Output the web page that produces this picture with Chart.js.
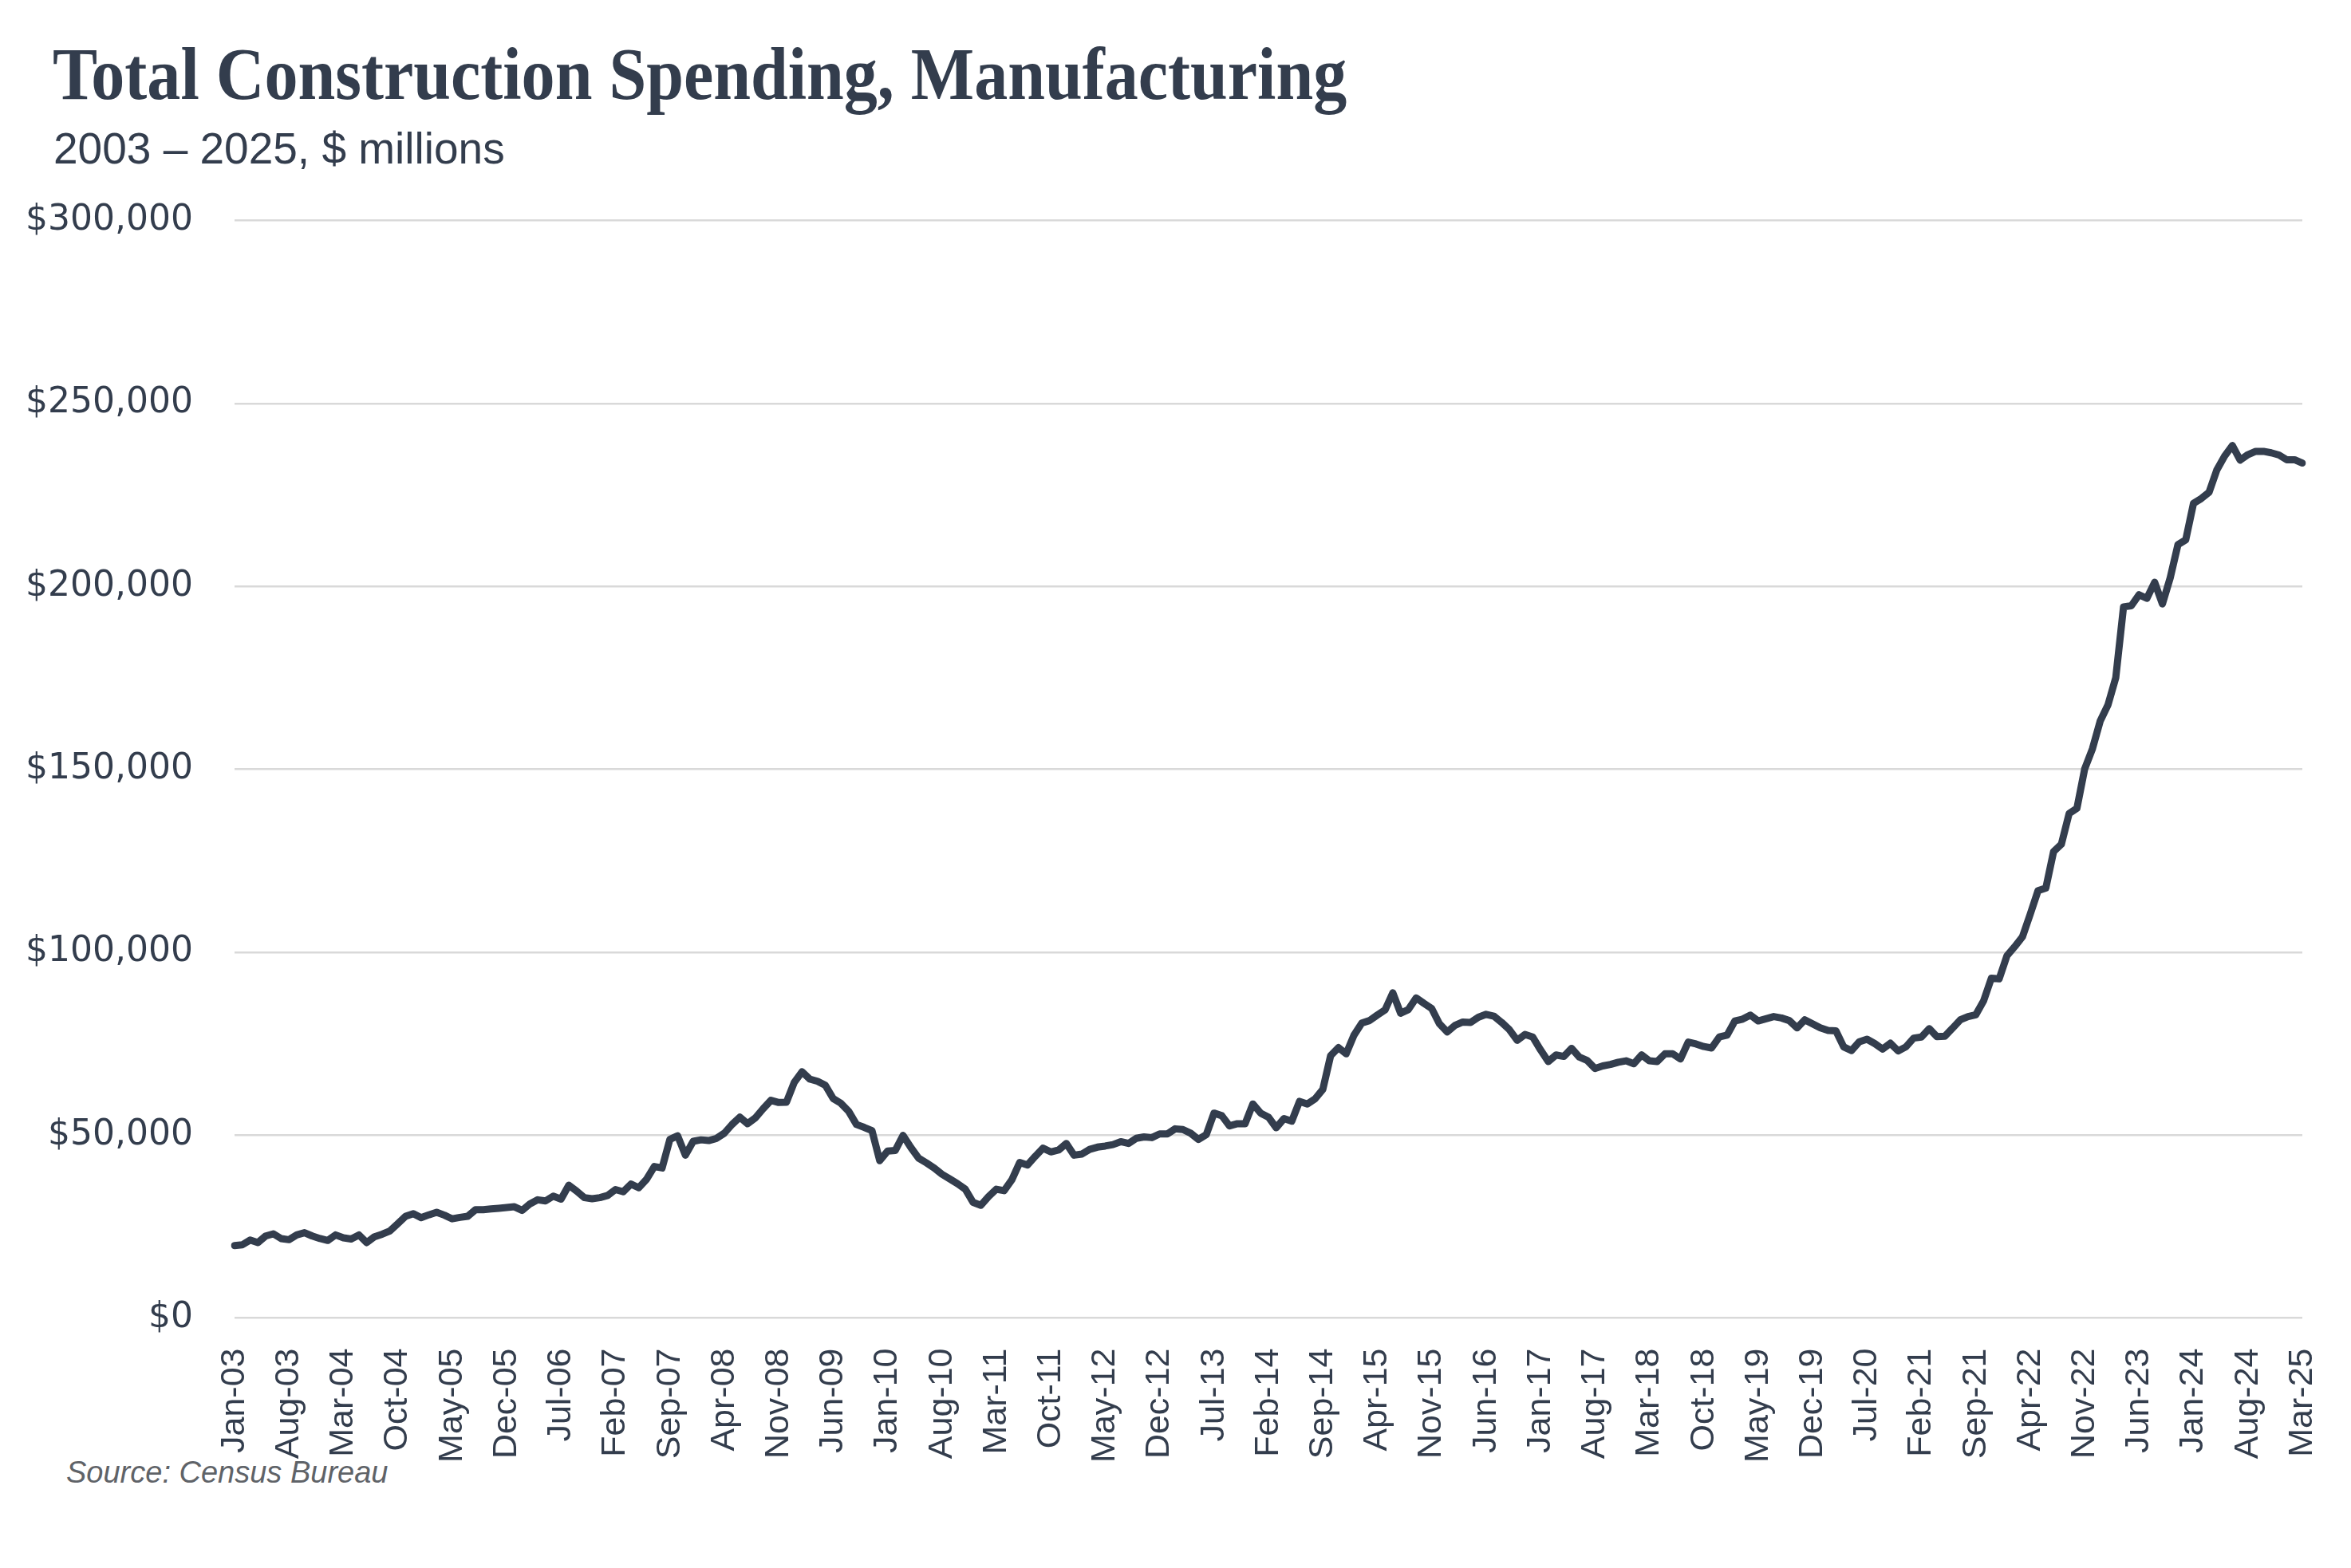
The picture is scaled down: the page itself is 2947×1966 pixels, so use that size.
<!DOCTYPE html>
<html>
<head>
<meta charset="utf-8">
<script src="https://cdn.jsdelivr.net/npm/chart.js@4.4.1/dist/chart.umd.min.js"></script>
<style>
  html, body { margin: 0; padding: 0; background: #fff; }
  body { width: 2947px; height: 1966px; position: relative; overflow: hidden; }
  .txt { position: absolute; white-space: nowrap; line-height: 1; color: #333d4d; transform-origin: 0 0; }
  #title { left: 66px; top: 45px; font-family: "Liberation Serif", serif; font-weight: bold; font-size: 94px; }
  #subtitle { left: 67px; top: 159px; font-family: "Liberation Sans", sans-serif; font-size: 55px; }
  #source { left: 83px; top: 1827px; font-family: "Liberation Sans", sans-serif; font-style: italic; font-size: 38px; color: #5f6368; }
  #chart { position: absolute; left: 0; top: 0; }
</style>
</head>
<body>
<div id="title" class="txt">Total Construction Spending, Manufacturing</div>
<div id="subtitle" class="txt">2003 – 2025, $ millions</div>
<div id="source" class="txt">Source: Census Bureau</div>
<canvas id="chart" width="2947" height="1966"></canvas>
<script>
// monthly spending, $ millions, Jan-03 .. Mar-25
const spending = [
  19800, 20000, 21300, 20600, 22400, 23000, 21700, 21400, 22700, 23300, 22400, 21700,
  21200, 22700, 21900, 21600, 22700, 20600, 22200, 22900, 23800, 25800, 27800, 28500,
  27400, 28200, 28900, 28100, 27100, 27500, 27800, 29600, 29600, 29800, 30000, 30200,
  30400, 29400, 31200, 32300, 32000, 33300, 32500, 36300, 34700, 32900, 32600, 32900,
  33500, 35100, 34500, 36600, 35600, 37900, 41400, 41000, 48800, 49800, 44500, 48300,
  48700, 48500, 49100, 50500, 52900, 54900, 53100, 54700, 57200, 59500, 58900, 59000,
  64400, 67300, 65300, 64700, 63600, 60000, 58700, 56500, 52900, 52100, 51200, 43000,
  45600, 45800, 49900, 46600, 43700, 42400, 41000, 39300, 38000, 36700, 35200, 31600,
  30800, 33200, 35200, 34800, 37800, 42500, 41800, 44200, 46400, 45400, 45900, 47700,
  44500, 44800, 46100, 46700, 47000, 47400, 48200, 47700, 49100, 49500, 49300, 50300,
  50300, 51700, 51500, 50500, 48800, 50100, 56000, 55300, 52500, 53100, 53100, 58500,
  56000, 54900, 52000, 54500, 53800, 59200, 58500, 59900, 62500, 71700, 73900, 72200,
  77300, 80600, 81300, 82800, 84200, 88900, 83300, 84300, 87500, 86000, 84600, 80400,
  78200, 80000, 80900, 80800, 82200, 83000, 82500, 80800, 78800, 75900, 77500, 76800,
  73300, 70100, 71900, 71500, 73700, 71300, 70400, 68200, 68900, 69300, 69900, 70300,
  69500, 71900, 70300, 70100, 72200, 72200, 70800, 75400, 74900, 74200, 73800, 76800,
  77300, 81200, 81700, 82800, 81200, 81800, 82400, 82000, 81300, 79300, 81500, 80400,
  79300, 78600, 78500, 74100, 73100, 75500, 76200, 75000, 73500, 75100, 73000, 74100,
  76500, 76800, 79100, 76900, 77000, 79200, 81500, 82400, 82900, 86700, 92900, 92700,
  99000, 101500, 104200, 110400, 116800, 117500, 127500, 129500, 137900, 139300, 150100, 155600,
  163200, 167600, 175000, 194400, 194700, 197700, 196700, 201100, 195200, 202300, 211400, 212700,
  222700, 224000, 225700, 231800, 235600, 238500, 234500, 236000, 236900, 236900, 236500, 235900,
  234600, 234600, 233700
];
const monthNames = ["Jan","Feb","Mar","Apr","May","Jun","Jul","Aug","Sep","Oct","Nov","Dec"];
const startYear = 2003;
const yTicks = [0, 50000, 100000, 150000, 200000, 250000, 300000];
const xLabelEvery = 7;

const labels = spending.map((_, i) =>
  monthNames[i % 12] + "-" + String((startYear + Math.floor(i / 12)) % 100).padStart(2, "0"));

// squeeze the serif title to the reference width
const title = document.getElementById("title");
title.style.transform = "scaleX(" + (1622 / title.offsetWidth) + ")";

const ink = "#333d4d";

new Chart(document.getElementById("chart"), {
  type: "line",
  data: {
    labels: labels,
    datasets: [{
      data: spending,
      borderColor: ink,
      borderWidth: 9,
      pointRadius: 0,
      tension: 0,
      borderJoinStyle: "round",
      borderCapStyle: "round"
    }]
  },
  options: {
    responsive: false,
    animation: false,
    layout: { padding: { top: 276.5, right: 61, left: 0, bottom: 0 } },
    plugins: { legend: { display: false }, tooltip: { enabled: false } },
    scales: {
      x: {
        grid: { display: false },
        border: { display: false },
        afterFit: (axis) => {
          axis.height = 313.5;
          axis.paddingLeft = 0;
          axis.paddingRight = 0;
        },
        ticks: {
          autoSkip: false,
          minRotation: 90,
          maxRotation: 90,
          padding: 30,
          color: ink,
          font: { family: "Liberation Sans", size: 43 },
          callback: (val, idx) => idx % xLabelEvery === 0 ? labels[idx] : null
        }
      },
      y: {
        min: 0,
        max: 300000,
        afterFit: (axis) => { axis.width = 294; },
        afterBuildTicks: (axis) => { axis.ticks = yTicks.map(v => ({ value: v })); },
        grid: { color: "#d9d9d9", lineWidth: 2.5, drawTicks: false },
        border: { display: false },
        ticks: {
          padding: 52,
          color: ink,
          font: { family: "DejaVu Sans", size: 44 },
          callback: (v) => "$" + v.toLocaleString("en-US")
        }
      }
    }
  }
});
</script>
</body>
</html>
